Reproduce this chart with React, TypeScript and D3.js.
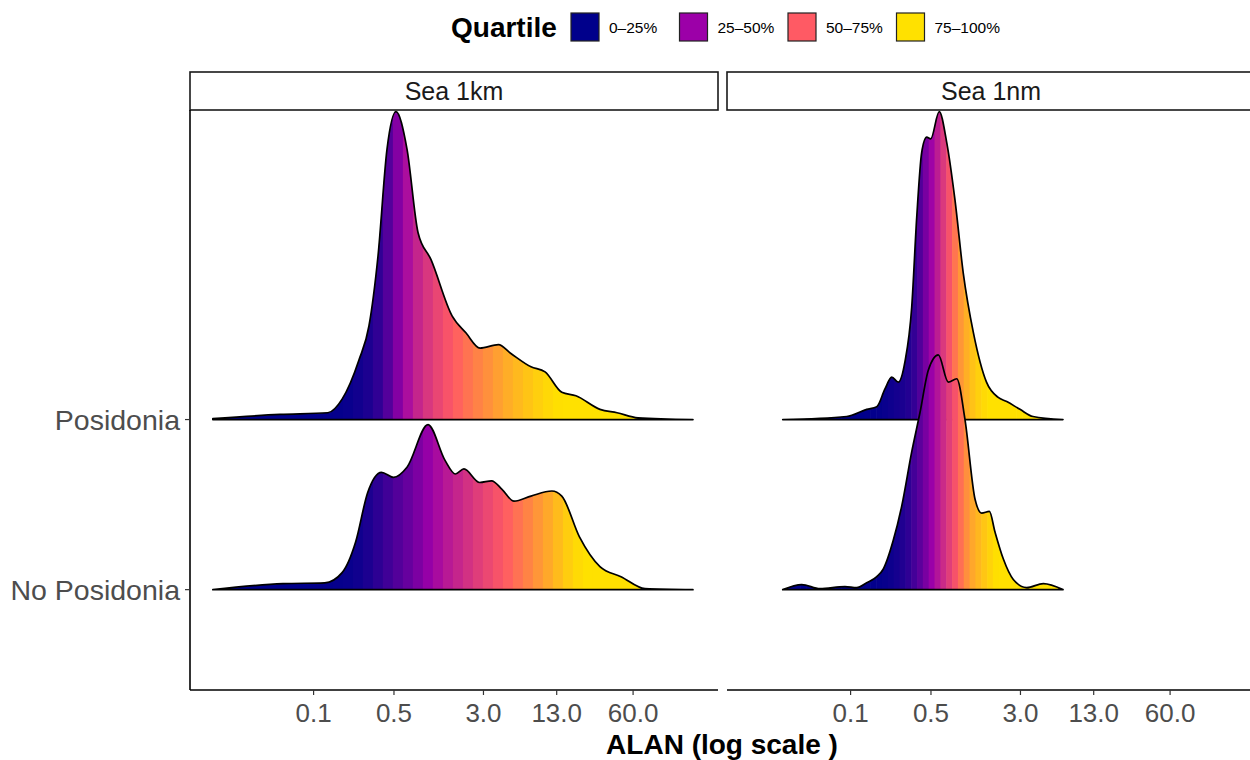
import * as d3 from "d3"
import React from "react"

const W = 1250
const H = 760

const rows = ["No Posidonia", "Posidonia"]
const panels = ["Sea 1km", "Sea 1nm"]
const tickValues = [0.1, 0.5, 3, 13, 60]
const tickLabels = ["0.1", "0.5", "3.0", "13.0", "60.0"]
const quartileLabels = ["0–25%", "25–50%", "50–75%", "75–100%"]
const quartileColors = ["#00008B", "#9C00A8", "#FF5A64", "#FFE100"]

// density estimates (ALAN value, ridge height in row units)
const km1PosAlan = [0.0133, 0.051, 0.133, 0.177, 0.248, 0.303, 0.363, 0.435, 0.52, 0.649, 0.809, 1.05, 1.6, 2.11, 2.8, 4.05, 5.16, 7.77, 10.3, 14.4, 19.1, 30.9, 43.5, 66.2, 199]
const km1PosDens = [0.005, 0.03, 0.04, 0.12, 0.35, 0.55, 0.96, 1.59, 1.81, 1.59, 1.1, 0.94, 0.61, 0.51, 0.42, 0.44, 0.39, 0.31, 0.28, 0.16, 0.14, 0.06, 0.04, 0.01, 0]

const km1NoAlan = [0.0133, 0.0542, 0.125, 0.177, 0.232, 0.295, 0.389, 0.495, 0.649, 0.989, 1.39, 1.71, 2.03, 2.78, 3.53, 4.35, 5.53, 7.77, 11.8, 14.4, 20.5, 30.9, 47.1, 76.2, 199]
const km1NoDens = [0, 0.035, 0.04, 0.1, 0.28, 0.57, 0.69, 0.66, 0.72, 0.97, 0.76, 0.68, 0.71, 0.63, 0.64, 0.59, 0.52, 0.55, 0.58, 0.55, 0.31, 0.135, 0.076, 0.006, 0]

const nm1PosAlan = [0.0257, 0.0925, 0.138, 0.169, 0.199, 0.228, 0.26, 0.297, 0.34, 0.376, 0.415, 0.459, 0.497, 0.59, 0.685, 0.809, 0.955, 1.17, 1.52, 1.92, 2.28, 2.97, 3.85, 7.03]
const nm1PosDens = [0, 0.018, 0.06, 0.076, 0.18, 0.25, 0.22, 0.34, 0.66, 1.19, 1.57, 1.66, 1.65, 1.81, 1.63, 1.29, 0.86, 0.51, 0.22, 0.13, 0.106, 0.06, 0.018, 0]

const nm1NoAlan = [0.0257, 0.0376, 0.0542, 0.0894, 0.113, 0.138, 0.169, 0.192, 0.235, 0.278, 0.34, 0.401, 0.474, 0.579, 0.707, 0.837, 0.988, 1.21, 1.38, 1.61, 1.8, 2.13, 2.6, 3.4, 4.74, 7.03]
const nm1NoDens = [0, 0.03, 0.006, 0.018, 0.012, 0.04, 0.076, 0.12, 0.29, 0.49, 0.81, 1.04, 1.29, 1.38, 1.22, 1.24, 1.0, 0.53, 0.45, 0.46, 0.34, 0.18, 0.06, 0.012, 0.035, 0]

const ridges = [
  { panel: 0, row: 1, alan: km1PosAlan, dens: km1PosDens },
  { panel: 0, row: 0, alan: km1NoAlan, dens: km1NoDens },
  { panel: 1, row: 1, alan: nm1PosAlan, dens: nm1PosDens },
  { panel: 1, row: 0, alan: nm1NoAlan, dens: nm1NoDens },
]

const font = "'Liberation Sans', Arial, Helvetica, sans-serif"

export default function App() {
  const panelW = 528
  const panelX = [190, 727]
  const top = 110
  const bottom = 690

  const xScales = panelX.map(x0 =>
    d3.scaleLog().domain([0.00842, 328.5]).range([x0, x0 + panelW])
  )
  const yScale = d3.scaleLinear().domain([0.41, 3.82]).range([bottom, top])
  const rowY = (r: number) => yScale(r + 1)

  // gradient keyed on the cumulative share of each ridge
  const color = d3.scaleLinear<string>()
    .domain([0.01, 0.37, 0.7, 0.96])
    .range(quartileColors)
    .clamp(true)

  const nBins = 48

  return (
    <svg width={W} height={H} style={{ position: "absolute", left: 0, top: 0, background: "#fff" }} fontFamily={font}>
      {/* legend */}
      <text x={451} y={37} fontSize={28} fontWeight="bold" fill="#000">Quartile</text>
      {quartileLabels.map((lab, i) => {
        const kx = 571 + i * 108.5
        return (
          <g key={lab}>
            <rect x={kx} y={13} width={28} height={28} fill={quartileColors[i]} stroke="#222" strokeWidth={1.2} />
            <text x={kx + 38} y={33} fontSize={15.5} fill="#000">{lab}</text>
          </g>
        )
      })}

      {panels.map((p, pi) => {
        const x0 = panelX[pi]
        return (
          <g key={p}>
            <rect x={x0} y={72} width={panelW} height={38} fill="#fff" stroke="#1a1a1a" strokeWidth={1.6} />
            <text x={x0 + panelW / 2} y={100} fontSize={25} textAnchor="middle" fill="#1a1a1a">{p}</text>
          </g>
        )
      })}

      {ridges.map((rd, k) => {
        const x = xScales[rd.panel]
        const base = rowY(rd.row)
        const pts = rd.alan.map((a, i) => ({ a, d: rd.dens[i] }))
        const area = d3.area<{ a: number; d: number }>()
          .x(d => x(d.a))
          .y0(base)
          .y1(d => yScale(rd.row + 1 + d.d))
          .curve(d3.curveMonotoneX)
        const path = area(pts) || ""
        const px = pts.map(d => x(d.a))
        const cum = [0]
        for (let i = 1; i < pts.length; i++) {
          cum.push(cum[i - 1] + (px[i] - px[i - 1]) * (pts[i].d + pts[i - 1].d) / 2)
        }
        const total = cum[cum.length - 1]
        const cdfAt = (v: number) => {
          let i = d3.bisectRight(px, v) - 1
          i = Math.max(0, Math.min(px.length - 2, i))
          const t = (v - px[i]) / (px[i + 1] - px[i])
          const h = pts[i].d + (pts[i + 1].d - pts[i].d) * t
          return (cum[i] + (v - px[i]) * (pts[i].d + h) / 2) / total
        }
        const xa = px[0]
        const xb = px[px.length - 1]
        const bw = (xb - xa) / nBins
        const bins = d3.range(nBins).map(b => xa + b * bw)
        const clipId = `clip-${k}`
        return (
          <g key={k}>
            <clipPath id={clipId}><path d={path} /></clipPath>
            <g clipPath={`url(#${clipId})`}>
              {bins.map((bx, b) => (
                <rect key={b} x={bx} y={top - 5} width={bw + 0.6} height={base - top + 10}
                  fill={color(cdfAt(bx + bw / 2))} />
              ))}
            </g>
            <path d={path} fill="none" stroke="#000" strokeWidth={1.7} strokeLinejoin="round" />
          </g>
        )
      })}

      {/* axes */}
      <line x1={190} x2={190} y1={top} y2={bottom} stroke="#000" strokeWidth={1.6} />
      {rows.map((r, i) => (
        <g key={r}>
          <line x1={185} x2={190} y1={rowY(i)} y2={rowY(i)} stroke="#333" strokeWidth={1.2} />
          <text x={180} y={rowY(i)} dy="0.36em" textAnchor="end" fontSize={28.5} fill="#4D4D4D">{r}</text>
        </g>
      ))}
      {panels.map((p, pi) => {
        const x = xScales[pi]
        const x0 = panelX[pi]
        return (
          <g key={p + "ax"}>
            <line x1={x0} x2={x0 + panelW} y1={bottom} y2={bottom} stroke="#000" strokeWidth={1.6} />
            {tickValues.map((t, i) => (
              <g key={t}>
                <line x1={x(t)} x2={x(t)} y1={bottom} y2={bottom + 5} stroke="#333" strokeWidth={1.2} />
                <text x={x(t)} y={722} textAnchor="middle" fontSize={26} fill="#4D4D4D">{tickLabels[i]}</text>
              </g>
            ))}
          </g>
        )
      })}
      <text x={722} y={754} textAnchor="middle" fontSize={28} fontWeight="bold" fill="#000">ALAN (log scale )</text>
    </svg>
  )
}
